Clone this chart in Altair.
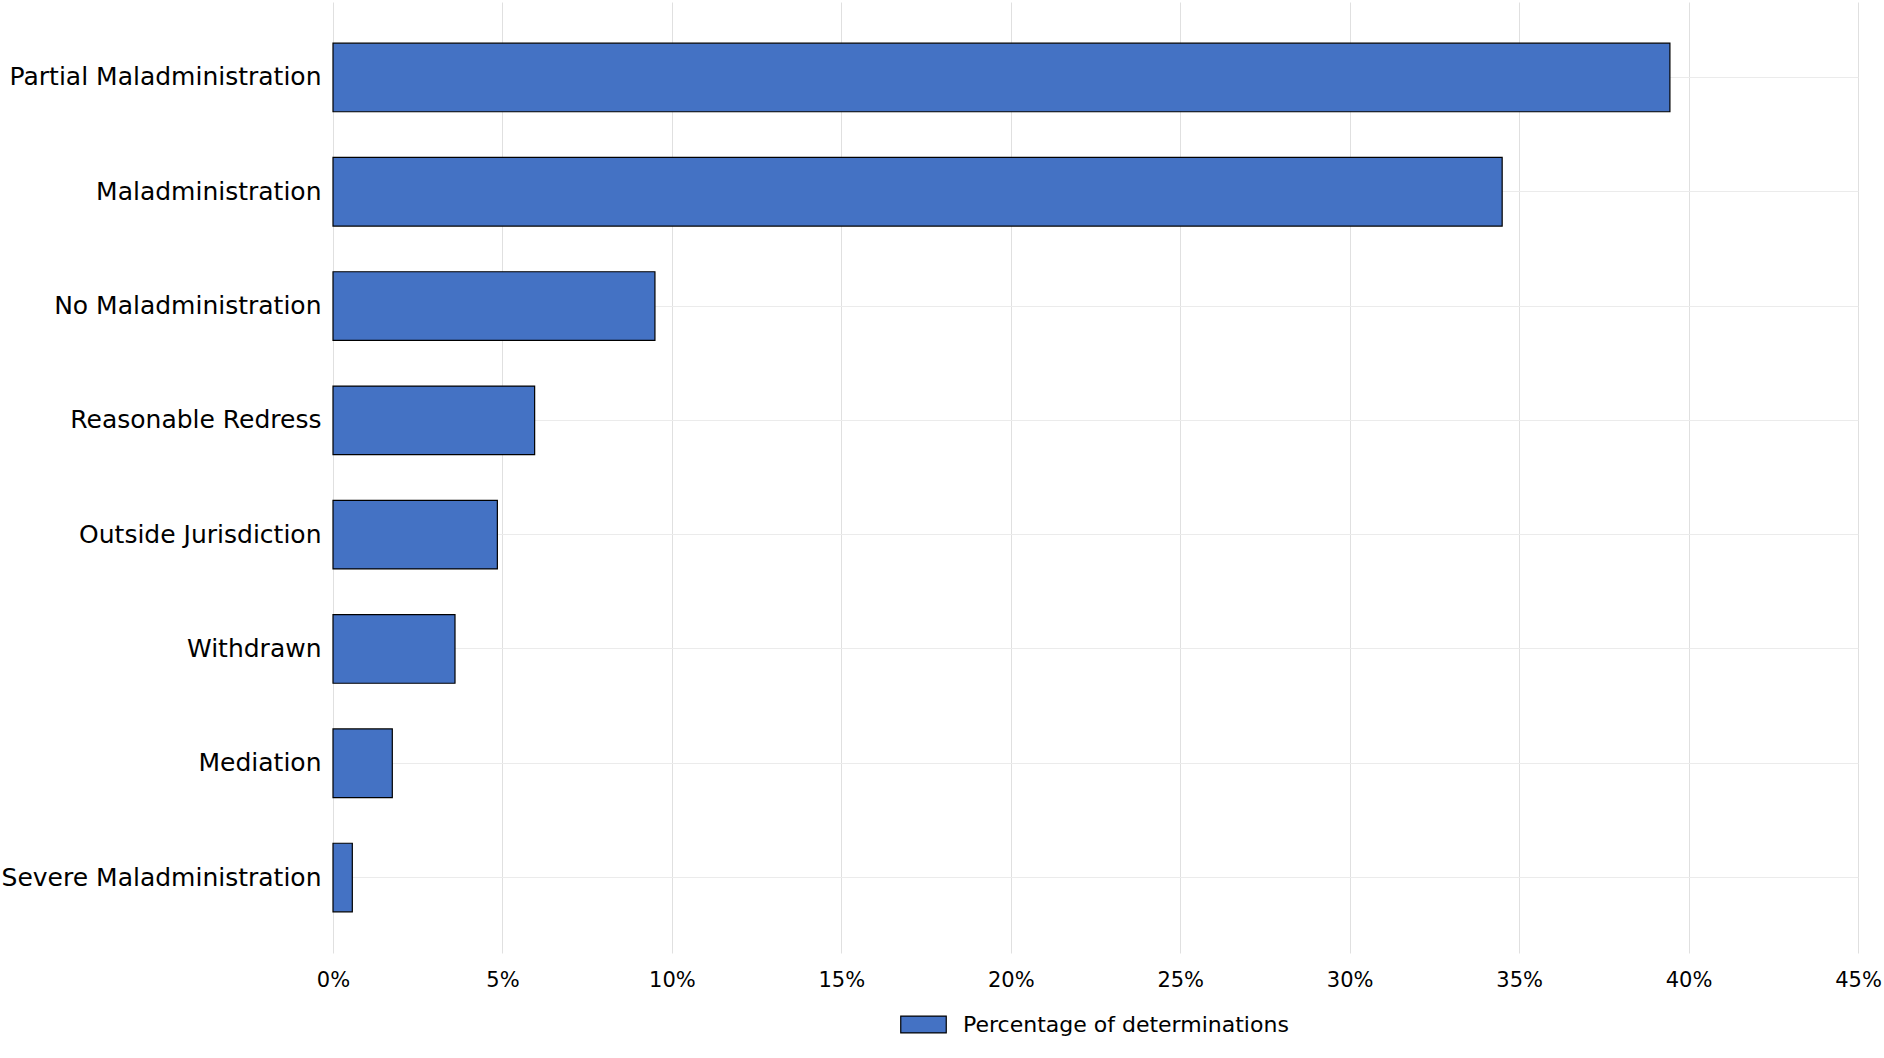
import altair as alt
import pandas as pd

categories = [
    "Partial Maladministration",
    "Maladministration",
    "No Maladministration",
    "Reasonable Redress",
    "Outside Jurisdiction",
    "Withdrawn",
    "Mediation",
    "Severe Maladministration",
]
percentages = [39.45, 34.5, 9.5, 5.95, 4.85, 3.6, 1.75, 0.57]
series_name = "Percentage of determinations"
tick_values = [0, 5, 10, 15, 20, 25, 30, 35, 40, 45]

df = pd.DataFrame({
    "category": categories,
    "value": [v / 100 for v in percentages],
    "series": [series_name] * len(categories),
})

FONT = "DejaVu Sans"

bars = alt.Chart(df).mark_bar(stroke="black", strokeWidth=1.2).encode(
    y=alt.Y(
        "category:N",
        sort=categories,
        scale=alt.Scale(paddingInner=0.4, paddingOuter=0.36),
        axis=alt.Axis(
            title=None, ticks=False, domain=False, labelFontSize=25,
            labelFont=FONT, labelColor="black", labelPadding=12,
            grid=True, bandPosition=0.5,
            gridColor="#ebebeb", gridWidth=1, labelLimit=500,
        ),
    ),
    x=alt.X(
        "value:Q",
        scale=alt.Scale(domain=[0, 0.45], nice=False),
        axis=alt.Axis(
            title=None, format=".0%", values=[t / 100 for t in tick_values],
            ticks=False, domain=False, labelFontSize=21, labelFont=FONT,
            labelColor="black", labelPadding=16, gridColor="#e0e0e0",
            gridWidth=1, labelFlush=False,
        ),
    ),
    color=alt.Color(
        "series:N",
        scale=alt.Scale(domain=[series_name], range=["#4472C4"]),
        legend=alt.Legend(
            title=None, orient="none", legendX=567, legendY=999,
            labelFontSize=22, labelFont=FONT, labelColor="black",
            labelLimit=600,
            symbolType="M-1,-0.37L1,-0.37L1,0.37L-1,0.37Z",
            symbolSize=2070, symbolStrokeColor="black", symbolStrokeWidth=1.2,
            symbolFillColor="#4472C4", symbolOpacity=1, labelOffset=16,
            padding=0,
        ),
    ),
)

chart = bars.properties(
    width=1525,
    height=951,
    autosize=alt.AutoSizeParams(type="none"),
    padding={"left": 333, "top": 2, "right": 26, "bottom": 105},
    background="white",
).configure_view(stroke=None)

chart.save("out.html", embed_options={"renderer": "svg", "actions": False})
